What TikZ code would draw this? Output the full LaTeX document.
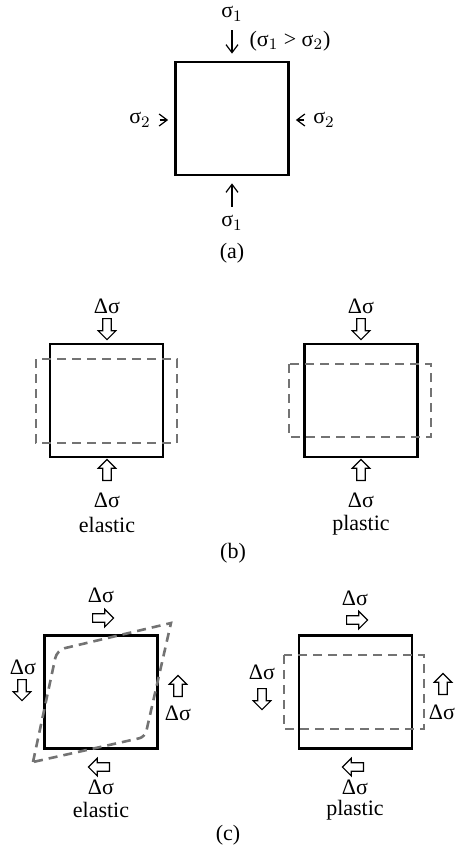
\documentclass[tikz,border=0pt]{standalone}
\usepackage{fontspec}
\setmainfont{Liberation Serif}
\usetikzlibrary{arrows.meta,shapes.arrows}
\tikzset{
	font=\fontsize{11}{13}\selectfont,
	>={Straight Barb[length=4pt,width=6pt]},
	box/.style={draw, line width=1.4pt, minimum width=56.5pt, minimum height=56.5pt, inner sep=0pt},
	dashline/.style={draw=black!55, line width=1.3pt, dash pattern=on 4.5pt off 3pt},
	hollow/.style={single arrow, draw, line width=0.6pt, inner sep=1.8pt, minimum height=10.5pt,
		single arrow head extend=2.3pt, single arrow head indent=0pt},
	hdown/.style={hollow, shape border rotate=270},
	hup/.style={hollow, shape border rotate=90},
	hleft/.style={hollow, shape border rotate=180},
	hright/.style={hollow}
}

\begin{document}
\begin{tikzpicture}[x=0.5pt,y=-0.5pt]  % pixel-like units, y pointing down
\useasboundingbox (0,0) rectangle (456,853);

% (a) principal stresses
\node[box] (sqA) at (232,118.5) {};
\node (s1t) at (232,14) {σ$_1$};
\node (cond) at (290,41) {(σ$_1$ > σ$_2$)};
\node (s2l) at (140,120) {σ$_2$};
\node (s2r) at (324,120) {σ$_2$};
\node (s1b) at (232,223) {σ$_1$};
\node (capa) at (232,253) {(a)};
\draw[->, line width=0.6pt, shorten <=1pt, shorten >=3.5pt] (s1t.south) -- (sqA.north);
\draw[->, line width=0.6pt, shorten <=1pt, shorten >=3.5pt] (s1b.north) -- (sqA.south);
\draw[->, line width=0.6pt, shorten <=1pt, shorten >=3pt] (s2l.east) -- (s2l.east -| sqA.west);
\draw[->, line width=0.6pt, shorten <=1pt, shorten >=3pt] (s2r.west) -- (s2r.west -| sqA.east);

% (b) compression, elastic
\node[box] (sqBe) at (106.5,400.5) {};
\draw[dashline] (36,359) rectangle (177,443);
\node (dBet) at (107,306) {Δσ};
\node[hdown] (aBet) at (107,327) {};
\node[hup] (aBeb) at (107,472) {};
\node (dBeb) at (107,500) {Δσ};
\node (labBe) at (107,525) {elastic};

% (b) compression, plastic
\node[box] (sqBp) at (361,400.5) {};
\draw[dashline] (289,364) rectangle (431,437);
\node (dBpt) at (361,306) {Δσ};
\node[hdown] (aBpt) at (361,327) {};
\node[hup] (aBpb) at (361,472) {};
\node (dBpb) at (361,500) {Δσ};
\node (labBp) at (361,525) {plastic};
\node (capb) at (233,553) {(b)};

% (c) shear, elastic
\node[box] (sqCe) at (101,692) {};
\draw[dashline] (33,762) [rounded corners=4pt] -- (57,650) [sharp corners] -- (171,623)
	[rounded corners=3pt] -- (145,737) [sharp corners] -- cycle;
\node (dCet) at (101,595) {Δσ};
\node[hright] (aCet) at (101,618) {};
\node (dCel) at (23,667) {Δσ};
\node[hdown] (aCel) at (22,688) {};
\node[hup] (aCer) at (178,688) {};
\node (dCer) at (178,713) {Δσ};
\node[hleft] (aCeb) at (101,767) {};
\node (dCeb) at (101,787) {Δσ};
\node (labCe) at (101,810) {elastic};

% (c) shear, plastic
\node[box] (sqCp) at (355.5,692) {};
\draw[dashline] (284,655) rectangle (424,729);
\node (dCpt) at (355,598) {Δσ};
\node[hright] (aCpt) at (355,620) {};
\node (dCpl) at (262,672) {Δσ};
\node[hdown] (aCpl) at (262,697) {};
\node[hup] (aCpr) at (443,686) {};
\node (dCpr) at (442,712) {Δσ};
\node[hleft] (aCpb) at (355,767) {};
\node (dCpb) at (355,787) {Δσ};
\node (labCp) at (355,810) {plastic};
\node (capc) at (228,835) {(c)};
\end{tikzpicture}
\end{document}
